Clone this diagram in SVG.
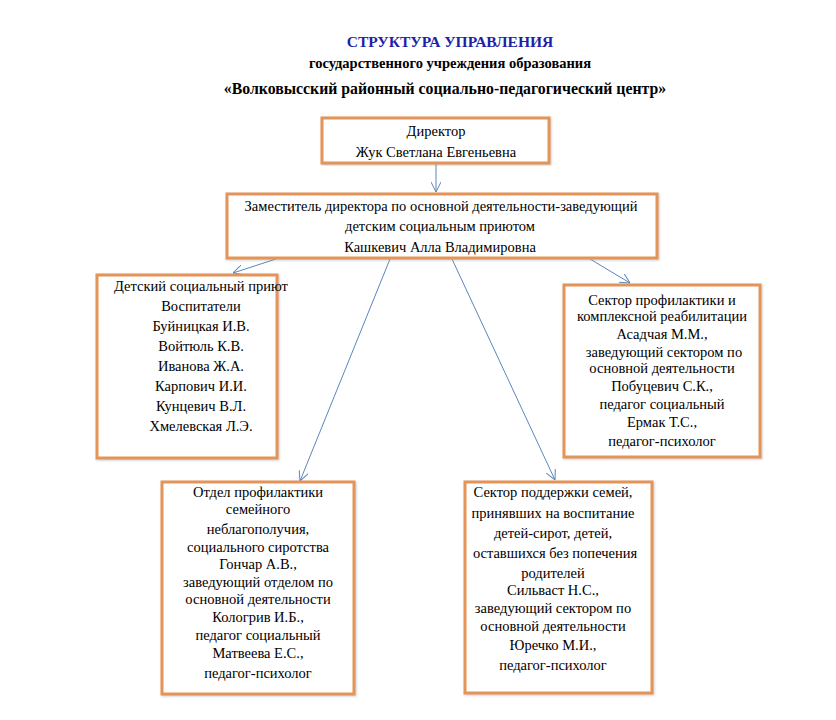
<svg xmlns="http://www.w3.org/2000/svg" width="836" height="720" viewBox="0 0 836 720" font-family="Liberation Serif, DejaVu Serif, serif" font-size="14.5" xml:space="preserve">
<defs>
<style>
.box{fill:#ffffff;stroke:#E39456;stroke-width:3}
.c{stroke:#5B86BA;stroke-width:1;fill:none;marker-end:url(#ah)}
</style>
<marker id="ah" viewBox="0 0 10 10" refX="10" refY="5" markerWidth="10" markerHeight="10" markerUnits="userSpaceOnUse" orient="auto">
<path d="M0,0 L10,5 L0,10" fill="none" stroke="#5B86BA" stroke-width="1"/>
</marker>
<filter id="sh" x="-5%" y="-5%" width="110%" height="110%">
<feDropShadow dx="1" dy="1" stdDeviation="1" flood-color="#999" flood-opacity="0.5"/>
</filter>
</defs>
<rect width="836" height="720" fill="#ffffff"/>
<g id="title" text-anchor="middle" font-weight="bold">
<text x="450" y="47" font-size="15.5" fill="#1F1FA8">СТРУКТУРА  УПРАВЛЕНИЯ</text>
<text x="450" y="68">государственного учреждения образования</text>
<text x="445" y="94" font-size="15.8">«Волковысский районный  социально-педагогический  центр»</text>
</g>
<g id="connectors">
<line class="c" x1="436" y1="164" x2="436" y2="192"/>
<line class="c" x1="276" y1="259" x2="233" y2="273"/>
<line class="c" x1="390" y1="259" x2="300" y2="481"/>
<line class="c" x1="452" y1="259" x2="555" y2="480"/>
<line class="c" x1="590" y1="259" x2="630" y2="283"/>
</g>
<g id="director" text-anchor="middle">
<rect class="box" filter="url(#sh)" x="322" y="118" width="227" height="45"/>
<text x="436" y="136">Директор</text>
<text x="436" y="157">Жук Светлана Евгеньевна</text>
</g>
<g id="deputy" text-anchor="middle">
<rect class="box" filter="url(#sh)" x="227" y="194" width="430" height="64"/>
<text x="441" y="211">Заместитель директора по основной  деятельности-заведующий</text>
<text x="440" y="231">детским социальным приютом</text>
<text x="440" y="252">Кашкевич Алла Владимировна</text>
</g>
<g id="shelter" text-anchor="middle">
<rect class="box" filter="url(#sh)" x="97" y="275" width="180" height="183"/>
<text x="201" y="291">Детский социальный  приют</text>
<text x="201" y="311">Воспитатели</text>
<text x="201" y="331">Буйницкая  И.В.</text>
<text x="201" y="351">Войтюль К.В.</text>
<text x="201" y="371">Иванова Ж.А.</text>
<text x="201" y="391">Карпович  И.И.</text>
<text x="201" y="411">Кунцевич  В.Л.</text>
<text x="201" y="431">Хмелевская Л.Э.</text>
</g>
<g id="prevention-sector" text-anchor="middle">
<rect class="box" filter="url(#sh)" x="564" y="285" width="196" height="172"/>
<text x="662" y="305">Сектор профилактики  и</text>
<text x="662" y="321">комплексной  реабилитации</text>
<text x="662" y="339">Асадчая М.М.,</text>
<text x="664" y="357">заведующий сектором по</text>
<text x="662" y="373">основной  деятельности</text>
<text x="662" y="391">Побуцевич С.К.,</text>
<text x="662" y="409">педагог социальный</text>
<text x="662" y="427">Ермак Т.С.,</text>
<text x="662" y="446">педагог-психолог</text>
</g>
<g id="prevention-dept" text-anchor="middle">
<rect class="box" filter="url(#sh)" x="162" y="482" width="192" height="212"/>
<text x="258" y="497">Отдел профилактики</text>
<text x="258" y="514">семейного</text>
<text x="258" y="534">неблагополучия,</text>
<text x="258" y="552">социального  сиротства</text>
<text x="258" y="569">Гончар А.В.,</text>
<text x="258" y="587">заведующий отделом по</text>
<text x="258" y="604">основной  деятельности</text>
<text x="258" y="622">Кологрив  И.Б.,</text>
<text x="258" y="640">педагог социальный</text>
<text x="258" y="658">Матвеева Е.С.,</text>
<text x="258" y="678">педагог-психолог</text>
</g>
<g id="family-support" text-anchor="middle">
<rect class="box" filter="url(#sh)" x="465" y="482" width="187" height="211"/>
<text x="553" y="497">Сектор поддержки  семей,</text>
<text x="553" y="518">принявших   на воспитание</text>
<text x="553" y="538">детей-сирот, детей,</text>
<text x="555" y="558">оставшихся без попечения</text>
<text x="553" y="578">родителей</text>
<text x="553" y="595">Сильваст Н.С.,</text>
<text x="553" y="613">заведующий сектором по</text>
<text x="553" y="631">основной  деятельности</text>
<text x="553" y="650">Юречко М.И.,</text>
<text x="553" y="670">педагог-психолог</text>
</g>
</svg>
